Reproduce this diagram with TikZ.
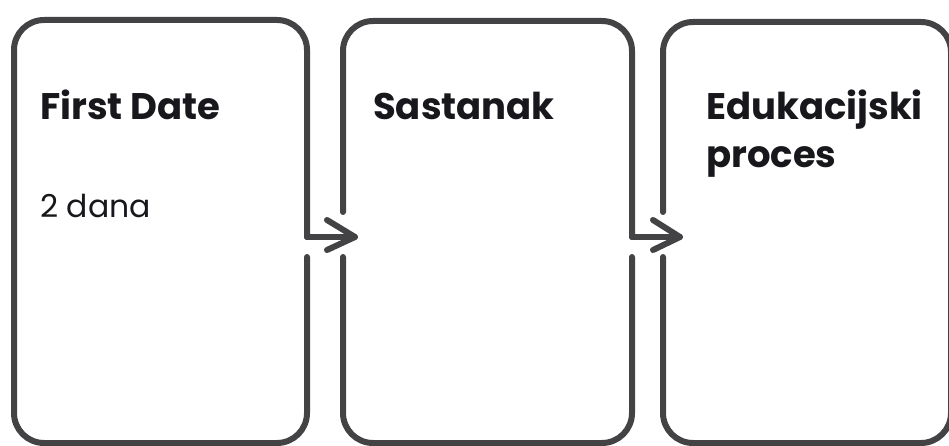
\documentclass[tikz,border=0pt]{standalone}
\usepackage{fontspec}
\setmainfont{Poppins}
\definecolor{stroke}{HTML}{434345}
\definecolor{ink}{HTML}{17171C}
\begin{document}
\begin{tikzpicture}[x=1pt,y=-1pt,
  boxline/.style={draw=stroke,line width=6pt,line cap=round,line join=round,rounded corners=30pt},
  arrline/.style={draw=stroke,line width=6pt,line cap=round,line join=round},
  title/.style={anchor=base west,inner sep=0pt,text=ink,font=\fontsize{37}{48}\selectfont\bfseries},
  body/.style={anchor=base west,inner sep=0pt,text=ink,font=\fontsize{31.5}{40}\selectfont}]
\useasboundingbox (0,0) rectangle (949,446);
\clip (0,0) rectangle (949,446);
% named points
\coordinate (b1out) at (307,237);
\coordinate (b2in) at (355,237);
\coordinate (b2out) at (632,237);
\coordinate (b3in) at (680,237);
% box 1
\draw[boxline] (307,257) -- (307,443) -- (14,443) -- (14,20) -- (307,20) -- (b1out);
% box 2
\draw[boxline] (343,212) -- (343,21) -- (632,21) -- (b2out);
\draw[boxline] (343,257) -- (343,443) -- (632,443) -- (632,257);
% box 3
\draw[boxline] (663,212) -- (663,22) -- (951,22) -- (951,443) -- (663,443) -- (663,257);
% arrows
\draw[arrline] (b1out) -- (b2in);
\draw[arrline] (327,220) -- (b2in) -- (327,250);
\draw[arrline] (b2out) -- (b3in);
\draw[arrline] (653,220) -- (b3in) -- (653,250);
% texts
\node[title] (t1) at (40,120) {First Date};
\node[body] (d1) at (40,218) {2 dana};
\node[title] (t2) at (373,120) {Sastanak};
\node[title] (t3a) at (706,120) {Edukacijski};
\node[title] (t3b) at (706,168) {proces};
\end{tikzpicture}
\end{document}
